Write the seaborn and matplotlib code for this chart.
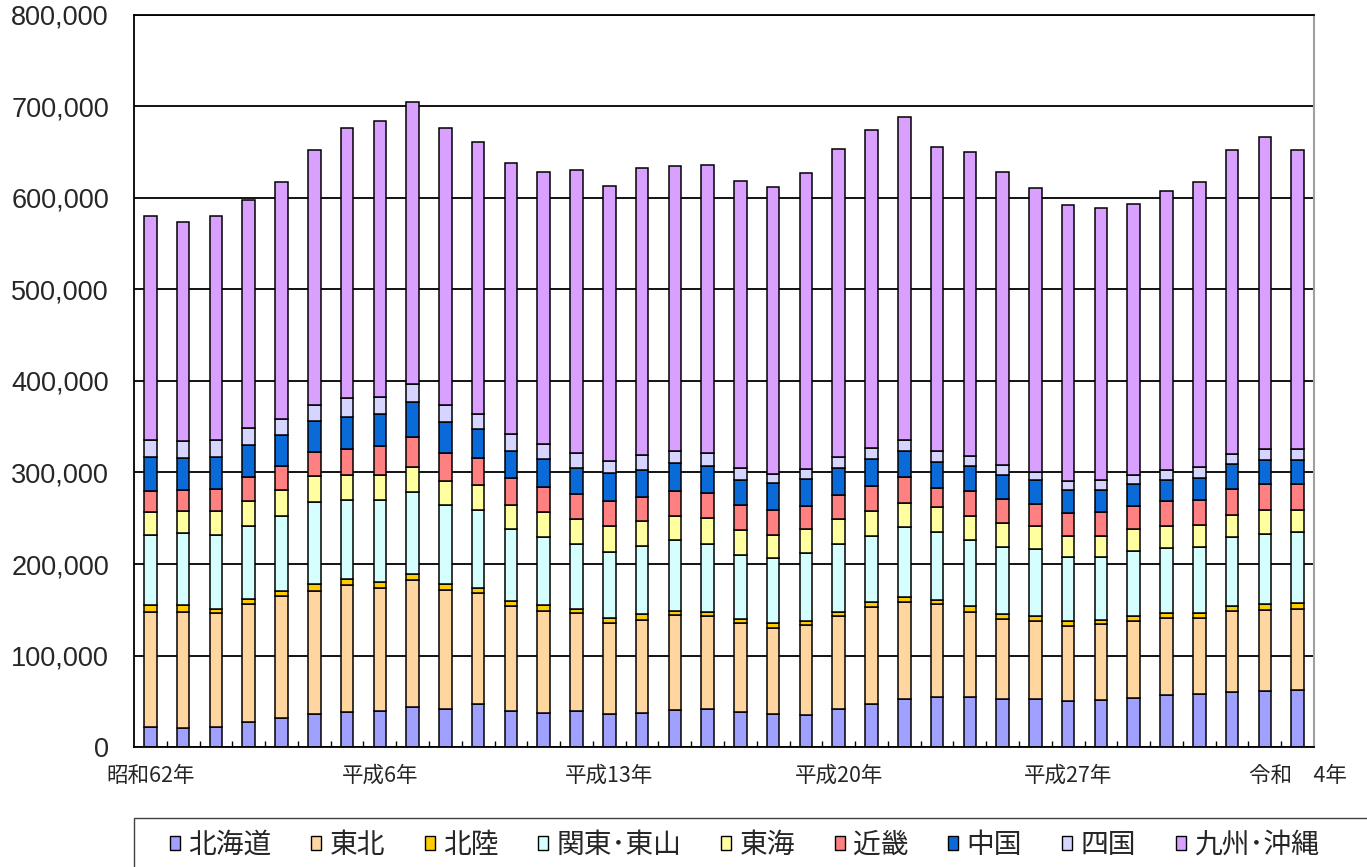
import numpy as np
import pandas as pd
import matplotlib.pyplot as plt
import seaborn as sns
from matplotlib.patches import Patch, Rectangle

# data (in thousands)
years = ['昭和62年', '昭和63年'] + [f'平成{i}年' for i in range(1, 31)] + [f'令和{i}年' for i in range(1, 5)]
tick_years = ['昭和62年', '平成6年', '平成13年', '平成20年', '平成27年', '令和　4年']

regions = ['北海道', '東北', '北陸', '関東･東山', '東海', '近畿', '中国', '四国', '九州･沖縄']

hokkaido = [22, 21, 22, 27, 32, 36, 38, 39, 44, 41, 47, 39, 37, 39, 36, 37, 40, 41,
            38, 36, 35, 41, 47, 52, 55, 55, 53, 52, 50, 51, 54, 57, 58, 60, 61, 62]
tohoku = [126, 127, 124, 129, 133, 135, 139, 135, 139, 131, 121, 115, 112, 107, 99, 102, 104, 102,
          98, 94, 98, 102, 106, 107, 101, 93, 87, 86, 82, 83, 84, 84, 83, 89, 89, 89]
hokuriku = [7, 7, 5, 6, 6, 7, 7, 6, 6, 6, 6, 6, 6, 5, 6, 6, 5, 5,
            4, 5, 5, 5, 5, 5, 5, 6, 5, 5, 6, 5, 5, 5, 5, 5, 6, 6]
kanto = [77, 79, 81, 80, 82, 90, 86, 90, 90, 86, 85, 78, 75, 71, 72, 75, 77, 74,
         70, 72, 74, 74, 73, 76, 74, 72, 74, 73, 70, 69, 71, 72, 73, 75, 77, 78]
tokai = [25, 24, 26, 27, 28, 28, 27, 27, 27, 27, 27, 27, 27, 27, 29, 27, 26, 28,
         27, 25, 26, 27, 27, 27, 27, 27, 26, 25, 23, 23, 24, 24, 24, 25, 26, 24]
kinki = [23, 23, 24, 26, 26, 26, 29, 32, 33, 30, 30, 29, 27, 28, 27, 26, 28, 28,
         27, 27, 25, 26, 27, 28, 21, 27, 26, 25, 25, 26, 25, 27, 27, 28, 28, 28]
chugoku = [37, 35, 35, 35, 34, 34, 35, 35, 38, 34, 31, 30, 31, 28, 30, 30, 30, 29,
           28, 29, 30, 30, 30, 29, 29, 27, 26, 26, 25, 24, 24, 23, 24, 27, 27, 27]
shikoku = [19, 18, 19, 19, 18, 18, 20, 18, 20, 19, 17, 18, 16, 16, 14, 16, 13, 14,
           13, 10, 11, 12, 12, 12, 12, 11, 11, 9, 10, 11, 10, 11, 12, 11, 12, 12]
kyushu = [244, 240, 244, 249, 259, 278, 296, 302, 308, 303, 297, 296, 297, 310, 300, 314, 312, 315,
          314, 314, 323, 337, 347, 353, 332, 332, 320, 310, 301, 297, 296, 305, 312, 333, 341, 326]

colors = ['#A0A0FF', '#FFD5A0', '#FFCC00', '#D5FFFF', '#FFFFA0',
          '#FF8080', '#0A6AD8', '#D5D5FF', '#D9A0FF']

df = pd.DataFrame({'year': years})
for name, vals in zip(regions, [hokkaido, tohoku, hokuriku, kanto, tokai, kinki, chugoku, shikoku, kyushu]):
    df[name] = np.array(vals) * 1000

sns.set_style('white')
plt.rcParams['font.family'] = ['Noto Sans CJK JP', 'DejaVu Sans']

W, H = 1367, 867
fig = plt.figure(figsize=(W / 100, H / 100), dpi=100)
ax = fig.add_axes([134 / W, 1 - 747 / H, (1314 - 134) / W, (747 - 15) / H])

# stacked bars
bottom = np.zeros(len(years))
for name, c in zip(regions, colors):
    sns.barplot(x=df['year'], y=df[name], bottom=bottom, color=c, saturation=1,
                width=0.38, edgecolor='black', linewidth=1.1, errorbar=None,
                order=years, ax=ax)
    bottom += df[name].values

# axes
ax.set_ylim(0, 800000)
ax.set_xlim(-0.5, len(years) - 0.5)
yt = np.arange(0, 800001, 100000)
ax.set_yticks(yt, labels=[f'{v:,}' for v in yt], fontsize=19.5, fontfamily='Liberation Sans')
ax.set_xticks(range(0, len(years), 7), labels=tick_years, fontsize=15.5)
ax.set_xticks(np.arange(0.5, len(years) - 1, 1), minor=True)
ax.tick_params(axis='x', which='major', length=0, pad=13)
ax.tick_params(axis='x', which='minor', direction='in', length=4, width=1, bottom=True, color='black')
ax.tick_params(axis='y', length=0, pad=18)
ax.set_xlabel('')
ax.set_ylabel('')

ax.yaxis.grid(True, color='black', linewidth=1.3)
ax.set_axisbelow(True)
for side in ['left', 'bottom', 'top']:
    ax.spines[side].set_color('black')
    ax.spines[side].set_linewidth(1.3)
ax.spines['right'].set_color('#A0A0A0')
ax.spines['right'].set_linewidth(1.5)

# legend box (runs past the figure edge like the original)
fig.patches.append(Rectangle((134 / W, -0.1), 1.0, 0.1 + (1 - 818 / H),
                             transform=fig.transFigure, fill=False,
                             edgecolor='#404040', linewidth=1.0, clip_on=False))
handles = [Patch(facecolor=c, edgecolor='black', linewidth=1.0) for c in colors]
fig.legend(handles, regions, loc='center left', bbox_to_anchor=(170 / W, 1 - 845 / H),
           ncol=9, frameon=False, fontsize=20, handlelength=0.36, handleheight=0.36,
           handletextpad=0.3, columnspacing=1.43, borderpad=0, borderaxespad=0)

fig.savefig('out.png', dpi=100)
